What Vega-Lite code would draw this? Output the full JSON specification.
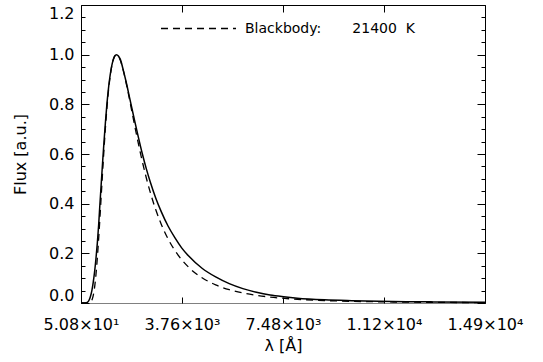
{
  "$schema": "https://vega.github.io/schema/vega-lite/v6.json",
  "width": 404,
  "height": 298,
  "autosize": {"type": "none"},
  "padding": {"left": 81, "top": 5, "right": 58, "bottom": 59},
  "background": "white",
  "datasets": {
    "model": [
      {"lam": 50.8, "flux": 0}, {"lam": 150, "flux": 0}, {"lam": 250, "flux": 0.001}, {"lam": 300, "flux": 0.004},
      {"lam": 350, "flux": 0.012}, {"lam": 400, "flux": 0.027}, {"lam": 450, "flux": 0.05}, {"lam": 500, "flux": 0.083},
      {"lam": 550, "flux": 0.125}, {"lam": 600, "flux": 0.178}, {"lam": 650, "flux": 0.24}, {"lam": 700, "flux": 0.315},
      {"lam": 750, "flux": 0.405}, {"lam": 800, "flux": 0.49}, {"lam": 850, "flux": 0.575}, {"lam": 900, "flux": 0.655},
      {"lam": 950, "flux": 0.73}, {"lam": 1000, "flux": 0.797}, {"lam": 1050, "flux": 0.853}, {"lam": 1100, "flux": 0.9},
      {"lam": 1150, "flux": 0.937}, {"lam": 1200, "flux": 0.965}, {"lam": 1275, "flux": 0.991}, {"lam": 1354, "flux": 1.0},
      {"lam": 1425, "flux": 0.995}, {"lam": 1500, "flux": 0.98}, {"lam": 1600, "flux": 0.94}, {"lam": 1700, "flux": 0.895},
      {"lam": 1850, "flux": 0.82}, {"lam": 2000, "flux": 0.745}, {"lam": 2150, "flux": 0.672}, {"lam": 2300, "flux": 0.603},
      {"lam": 2450, "flux": 0.541}, {"lam": 2600, "flux": 0.486}, {"lam": 2800, "flux": 0.422}, {"lam": 3000, "flux": 0.368},
      {"lam": 3250, "flux": 0.31}, {"lam": 3500, "flux": 0.263}, {"lam": 3750, "flux": 0.222}, {"lam": 4000, "flux": 0.19},
      {"lam": 4500, "flux": 0.14}, {"lam": 5000, "flux": 0.105}, {"lam": 5500, "flux": 0.078}, {"lam": 6000, "flux": 0.058},
      {"lam": 6500, "flux": 0.043}, {"lam": 7000, "flux": 0.032}, {"lam": 7500, "flux": 0.025}, {"lam": 8000, "flux": 0.0195},
      {"lam": 9000, "flux": 0.013}, {"lam": 10000, "flux": 0.0095}, {"lam": 11000, "flux": 0.007}, {"lam": 12000, "flux": 0.0055},
      {"lam": 13000, "flux": 0.0045}, {"lam": 14900, "flux": 0.0032}
    ],
    "bb": [
      {"lam": 50.8, "flux": 0, "s": "bb"}, {"lam": 200, "flux": 0, "s": "bb"}, {"lam": 300, "flux": 0.00005, "s": "bb"},
      {"lam": 400, "flux": 0.0032, "s": "bb"}, {"lam": 450, "flux": 0.0114, "s": "bb"}, {"lam": 500, "flux": 0.03, "s": "bb"},
      {"lam": 550, "flux": 0.0632, "s": "bb"}, {"lam": 600, "flux": 0.1133, "s": "bb"}, {"lam": 650, "flux": 0.1798, "s": "bb"},
      {"lam": 700, "flux": 0.2599, "s": "bb"}, {"lam": 750, "flux": 0.3492, "s": "bb"}, {"lam": 800, "flux": 0.4429, "s": "bb"},
      {"lam": 850, "flux": 0.5364, "s": "bb"}, {"lam": 900, "flux": 0.6256, "s": "bb"}, {"lam": 950, "flux": 0.7075, "s": "bb"},
      {"lam": 1000, "flux": 0.7802, "s": "bb"}, {"lam": 1050, "flux": 0.8424, "s": "bb"}, {"lam": 1100, "flux": 0.8936, "s": "bb"},
      {"lam": 1150, "flux": 0.9339, "s": "bb"}, {"lam": 1200, "flux": 0.9639, "s": "bb"}, {"lam": 1275, "flux": 0.9912, "s": "bb"},
      {"lam": 1354, "flux": 1.0, "s": "bb"}, {"lam": 1425, "flux": 0.994, "s": "bb"}, {"lam": 1500, "flux": 0.976, "s": "bb"},
      {"lam": 1600, "flux": 0.9388, "s": "bb"}, {"lam": 1700, "flux": 0.8916, "s": "bb"}, {"lam": 1850, "flux": 0.8111, "s": "bb"},
      {"lam": 2000, "flux": 0.7275, "s": "bb"}, {"lam": 2150, "flux": 0.6468, "s": "bb"}, {"lam": 2300, "flux": 0.572, "s": "bb"},
      {"lam": 2450, "flux": 0.5044, "s": "bb"}, {"lam": 2600, "flux": 0.4443, "s": "bb"}, {"lam": 2800, "flux": 0.3752, "s": "bb"},
      {"lam": 3000, "flux": 0.3174, "s": "bb"}, {"lam": 3250, "flux": 0.2585, "s": "bb"}, {"lam": 3500, "flux": 0.2117, "s": "bb"},
      {"lam": 4000, "flux": 0.1448, "s": "bb"}, {"lam": 4500, "flux": 0.1016, "s": "bb"}, {"lam": 5000, "flux": 0.0731, "s": "bb"},
      {"lam": 5500, "flux": 0.0537, "s": "bb"}, {"lam": 6000, "flux": 0.0403, "s": "bb"}, {"lam": 6500, "flux": 0.0308, "s": "bb"},
      {"lam": 7000, "flux": 0.0239, "s": "bb"}, {"lam": 8000, "flux": 0.015, "s": "bb"}, {"lam": 9000, "flux": 0.0099, "s": "bb"},
      {"lam": 10000, "flux": 0.0068, "s": "bb"}, {"lam": 11000, "flux": 0.0048, "s": "bb"}, {"lam": 12000, "flux": 0.0035, "s": "bb"},
      {"lam": 13000, "flux": 0.0026, "s": "bb"}, {"lam": 14900, "flux": 0.0016, "s": "bb"}
    ]
  },
  "config": {
    "view": {"stroke": null},
    "font": "DejaVu Sans",
    "axis": {"labelFont": "DejaVu Sans", "titleFont": "DejaVu Sans", "labelColor": "black", "titleColor": "black", "tickColor": "black", "domainColor": "black", "grid": false, "titleFontWeight": "normal", "tickWidth": 1, "domainWidth": 1}
  },
  "resolve": {"axis": {"x": "independent", "y": "independent"}},
  "layer": [
    {
      "data": {"name": "model"},
      "mark": {"type": "line", "color": "black", "strokeWidth": 1.5, "interpolate": "monotone"},
      "encoding": {
        "x": {
          "field": "lam", "type": "quantitative",
          "scale": {"domain": [50.8, 14900], "nice": false, "zero": false},
          "axis": {
            "orient": "bottom",
            "values": [50.8, 3763.1, 7475.4, 11187.7, 14900],
            "labelExpr": "datum.value < 100 ? '5.08×10¹' : datum.value < 5000 ? '3.76×10³' : datum.value < 9000 ? '7.48×10³' : datum.value < 13000 ? '1.12×10⁴' : '1.49×10⁴'",
            "ticks": false,
            "labelPadding": 13,
            "labelFontSize": 16,
            "labelFlush": false,
            "labelOverlap": false,
            "domainColor": "#808080",
            "title": "λ [Å]",
            "titleFontSize": 16,
            "titlePadding": 5
          }
        },
        "y": {
          "field": "flux", "type": "quantitative",
          "scale": {"domain": [0, 1.2], "nice": false, "zero": false},
          "axis": {
            "orient": "left",
            "values": [0, 0.2, 0.4, 0.6, 0.8, 1, 1.2],
            "format": ".1f",
            "ticks": false,
            "labelPadding": 7,
            "labelFontSize": 16,
            "labelFlush": true,
            "labelOverlap": false,
            "title": "Flux [a.u.]",
            "titleFontSize": 16,
            "titlePadding": 20
          }
        }
      }
    },
    {
      "data": {"name": "bb"},
      "mark": {"type": "line", "color": "black", "strokeWidth": 1.3, "interpolate": "monotone"},
      "encoding": {
        "x": {
          "field": "lam", "type": "quantitative",
          "axis": {"orient": "top", "offset": -298, "values": [50.8, 3763.1, 7475.4, 11187.7, 14900], "labels": false, "domain": false, "tickSize": 6, "title": null}
        },
        "y": {
          "field": "flux", "type": "quantitative",
          "axis": {"orient": "right", "offset": -404, "values": [0, 0.2, 0.4, 0.6, 0.8, 1, 1.2], "labels": false, "domain": false, "tickSize": 8, "title": null}
        },
        "strokeDash": {
          "field": "s", "type": "nominal",
          "scale": {"domain": ["bb"], "range": [[7, 5]]},
          "legend": {
            "orient": "none", "legendX": 79, "legendY": -15, "title": null,
            "symbolType": "stroke", "symbolSize": 5625, "symbolStrokeWidth": 1.3, "symbolStrokeColor": "black",
            "labelFont": "DejaVu Sans", "labelFontSize": 14, "labelColor": "black", "labelOffset": 8, "labelLimit": 400, "padding": 0,
            "labelExpr": "'Blackbody:\u00a0\u00a0\u00a0\u00a0\u00a0\u00a0\u00a021400\u00a0\u00a0K'"
          }
        }
      }
    },
    {
      "data": {"name": "model"},
      "mark": {"type": "line", "opacity": 0, "interpolate": "monotone"},
      "encoding": {
        "x": {
          "field": "lam", "type": "quantitative",
          "axis": {"orient": "bottom", "offset": -298, "values": [50.8, 3763.1, 7475.4, 11187.7, 14900], "labels": false, "domain": true, "domainColor": "black", "tickSize": 7, "title": null}
        },
        "y": {
          "field": "flux", "type": "quantitative",
          "axis": {"orient": "right", "offset": -404, "values": [0.05, 0.1, 0.15, 0.25, 0.3, 0.35, 0.45, 0.5, 0.55, 0.65, 0.7, 0.75, 0.85, 0.9, 0.95, 1.05, 1.1, 1.15], "labels": false, "domain": false, "tickSize": 4, "title": null}
        }
      }
    },
    {
      "data": {"name": "model"},
      "mark": {"type": "line", "opacity": 0, "interpolate": "monotone"},
      "encoding": {
        "x": {"field": "lam", "type": "quantitative", "axis": null},
        "y": {
          "field": "flux", "type": "quantitative",
          "axis": {"orient": "left", "offset": -404, "values": [0, 0.2, 0.4, 0.6, 0.8, 1, 1.2], "labels": false, "domain": true, "domainColor": "black", "tickSize": 8, "title": null}
        }
      }
    },
    {
      "data": {"name": "model"},
      "mark": {"type": "line", "opacity": 0, "interpolate": "monotone"},
      "encoding": {
        "x": {"field": "lam", "type": "quantitative", "axis": null},
        "y": {
          "field": "flux", "type": "quantitative",
          "axis": {"orient": "left", "offset": -404, "values": [0.05, 0.1, 0.15, 0.25, 0.3, 0.35, 0.45, 0.5, 0.55, 0.65, 0.7, 0.75, 0.85, 0.9, 0.95, 1.05, 1.1, 1.15], "labels": false, "domain": false, "tickSize": 4, "title": null}
        }
      }
    }
  ]
}
